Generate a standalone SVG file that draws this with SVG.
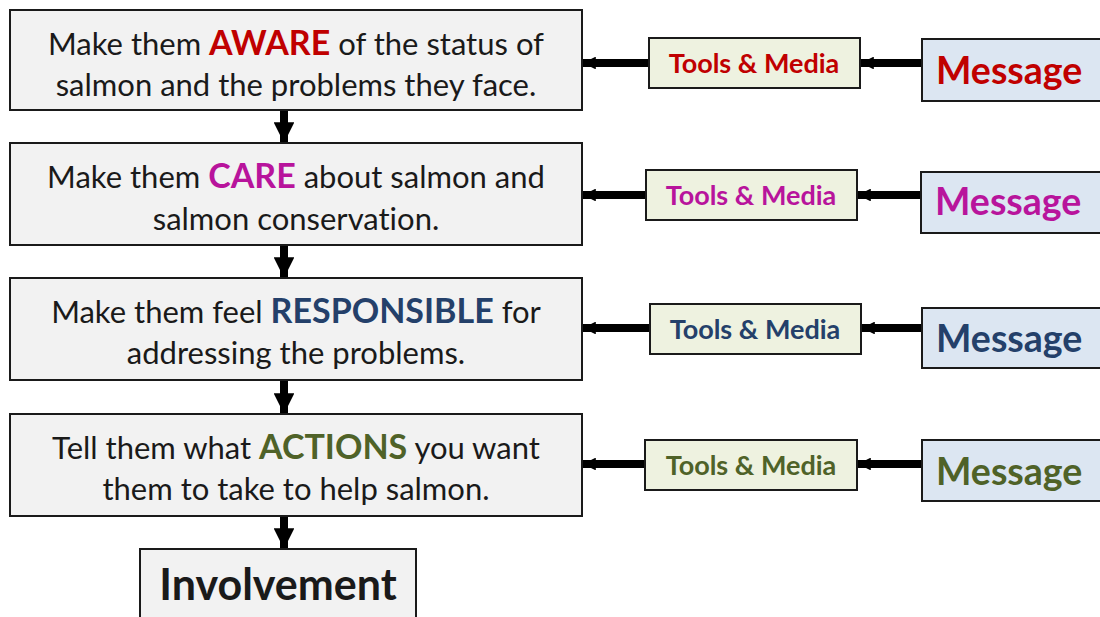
<svg xmlns="http://www.w3.org/2000/svg" width="1100" height="617" viewBox="0 0 1100 617">
<style>
text{font-variant-ligatures:none;font-feature-settings:"liga" 0,"clig" 0,"dlig" 0}
.main{fill:#F2F2F2;stroke:#1a1a1a;stroke-width:2}
.tool{fill:#EEF2E0;stroke:#1a1a1a;stroke-width:2}
.msg{fill:#DCE6F2;stroke:#1a1a1a;stroke-width:2}
.t{font-family:Lato,"Open Sans","Liberation Sans",sans-serif;font-size:31px;fill:#1a1a1a;text-anchor:middle}
.k{font-weight:bold;font-size:34px}
.tm{font-family:Lato,"Open Sans","Liberation Sans",sans-serif;font-size:27px;font-weight:bold;text-anchor:middle}
.m{font-family:Lato,"Open Sans","Liberation Sans",sans-serif;font-size:37.5px;font-weight:bold}
.c1{fill:#C00000}.c2{fill:#B8149C}.c3{fill:#24406A}.c4{fill:#4F6228}
.h{stroke:#000;stroke-width:8;fill:none}
</style>
<defs>
<marker id="ah" viewBox="0 0 10 10" refX="10" refY="5" markerWidth="1.6" markerHeight="1.6" orient="auto" markerUnits="strokeWidth">
<path d="M0,0 L10,5 L0,10 z" fill="#000"/>
</marker>
<marker id="av" viewBox="0 0 10 10" refX="10" refY="5" markerWidth="2.6" markerHeight="2.6" orient="auto" markerUnits="strokeWidth">
<path d="M0,0 L10,5 L0,10 z" fill="#000"/>
</marker>
</defs>
<rect width="1100" height="617" fill="#fff"/>
<g id="connectors">
<line class="h" x1="284" y1="110" x2="284" y2="143" marker-end="url(#av)"/>
<line class="h" x1="284" y1="245" x2="284" y2="278" marker-end="url(#av)"/>
<line class="h" x1="284" y1="380" x2="284" y2="414" marker-end="url(#av)"/>
<line class="h" x1="284" y1="516" x2="284" y2="549" marker-end="url(#av)"/>
<line class="h" x1="649" y1="63" x2="583" y2="63" marker-end="url(#ah)"/>
<line class="h" x1="922" y1="63" x2="861" y2="63" marker-end="url(#ah)"/>
<line class="h" x1="646" y1="195" x2="583" y2="195" marker-end="url(#ah)"/>
<line class="h" x1="921" y1="195" x2="858" y2="195" marker-end="url(#ah)"/>
<line class="h" x1="650" y1="328" x2="583" y2="328" marker-end="url(#ah)"/>
<line class="h" x1="922" y1="328" x2="862" y2="328" marker-end="url(#ah)"/>
<line class="h" x1="645" y1="464" x2="583" y2="464" marker-end="url(#ah)"/>
<line class="h" x1="922" y1="464" x2="858" y2="464" marker-end="url(#ah)"/>
</g>
<g id="aware">
<rect class="main" x="10" y="10" width="572" height="100"/>
<text class="t" x="296" y="55">Make them <tspan class="k c1">AWARE</tspan> of the status of</text>
<text class="t" x="296" y="96">salmon and the problems they face.</text>
</g>
<g id="care">
<rect class="main" x="10" y="143" width="572" height="102"/>
<text class="t" x="296" y="188">Make them <tspan class="k c2">CARE</tspan> about salmon and</text>
<text class="t" x="296" y="230">salmon conservation.</text>
</g>
<g id="responsible">
<rect class="main" x="10" y="278" width="572" height="102"/>
<text class="t" x="296" y="323">Make them feel <tspan class="k c3">RESPONSIBLE</tspan> for</text>
<text class="t" x="296" y="364">addressing the problems.</text>
</g>
<g id="actions">
<rect class="main" x="10" y="414" width="572" height="102"/>
<text class="t" x="296" y="459">Tell them what <tspan class="k c4">ACTIONS</tspan> you want</text>
<text class="t" x="296" y="500">them to take to help salmon.</text>
</g>
<g id="involvement">
<rect class="main" x="140" y="549" width="276" height="80"/>
<text class="t" x="278" y="600" style="font-size:43px;font-weight:bold">Involvement</text>
</g>
<g id="tools1"><rect class="tool" x="649" y="38" width="211" height="50"/><text class="tm c1" x="754" y="73">Tools &amp; Media</text></g>
<g id="tools2"><rect class="tool" x="646" y="170" width="211" height="50"/><text class="tm c2" x="751" y="205">Tools &amp; Media</text></g>
<g id="tools3"><rect class="tool" x="650" y="304" width="211" height="50"/><text class="tm c3" x="755" y="339">Tools &amp; Media</text></g>
<g id="tools4"><rect class="tool" x="645" y="440" width="212" height="50"/><text class="tm c4" x="751" y="475">Tools &amp; Media</text></g>
<g id="message1"><rect class="msg" x="922" y="39" width="190" height="62"/><text class="m c1" x="936" y="84">Message</text></g>
<g id="message2"><rect class="msg" x="921" y="172" width="190" height="61"/><text class="m c2" x="935" y="215">Message</text></g>
<g id="message3"><rect class="msg" x="922" y="308" width="190" height="60"/><text class="m c3" x="936" y="352">Message</text></g>
<g id="message4"><rect class="msg" x="922" y="440" width="190" height="61"/><text class="m c4" x="936" y="485">Message</text></g>
</svg>
